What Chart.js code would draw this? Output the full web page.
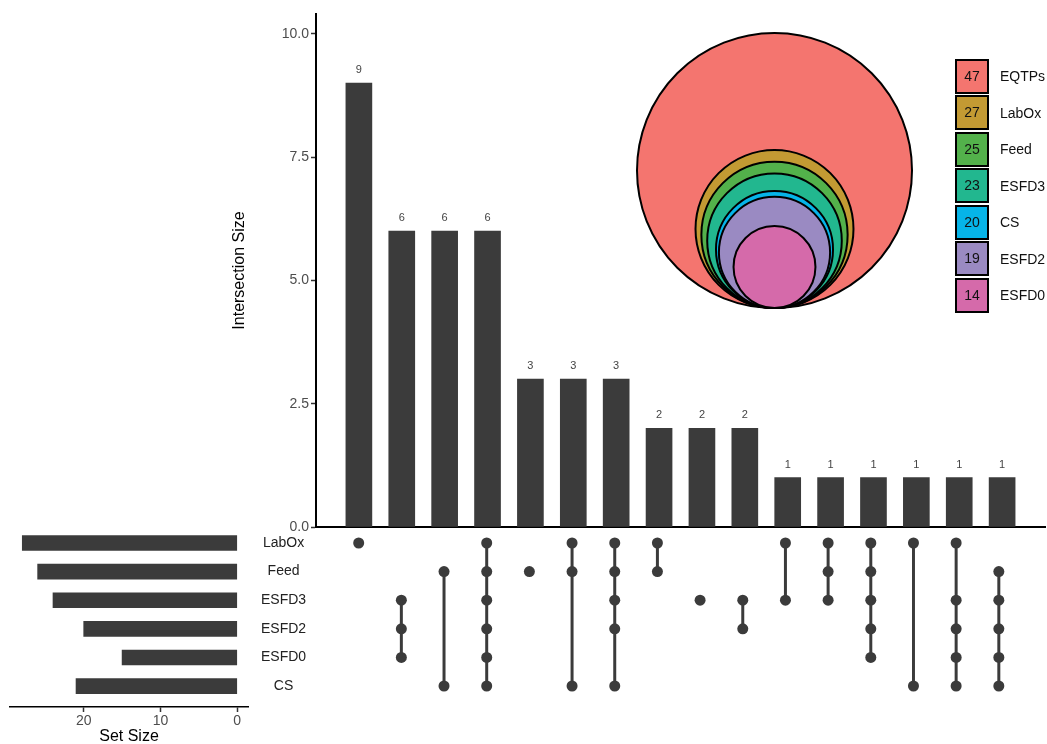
<!DOCTYPE html>
<html>
<head>
<meta charset="utf-8">
<script src="https://cdn.jsdelivr.net/npm/chart.js@4.4.1/dist/chart.umd.min.js"></script>
<style>
  body { margin: 0; background: #fff; }
  #wrap { position: relative; width: 1047px; height: 744px; overflow: hidden; font-family: "Liberation Sans", Arial, sans-serif; }
  #wrap canvas { position: absolute; }
  #legend { position: absolute; left: 955px; top: 58px; }
  .item { display: flex; align-items: center; height: 36.5px; }
  .box { width: 30px; height: 31px; border: 2px solid #000; text-align: center; line-height: 31px; font-size: 14px; color: #111; }
  .lab { margin-left: 11px; font-size: 14px; color: #111; }
</style>
</head>
<body>
<div id="wrap">
  <canvas id="bars" width="1047" height="540" style="left:0;top:0"></canvas>
  <canvas id="nest" width="290" height="290" style="left:630px;top:30px"></canvas>
  <canvas id="matrix" width="1047" height="200" style="left:0;top:520px"></canvas>
  <canvas id="sizes" width="330" height="224" style="left:0;top:520px"></canvas>
  <div id="legend"></div>
</div>
<script>
// data
const sets = ["LabOx", "Feed", "ESFD3", "ESFD2", "ESFD0", "CS"];
const setSizes = [28, 26, 24, 20, 15, 21];
const intersectionSizes = [9, 6, 6, 6, 3, 3, 3, 2, 2, 2, 1, 1, 1, 1, 1, 1];
const intersectionMembers = [
  ["LabOx"],
  ["ESFD3", "ESFD2", "ESFD0"],
  ["Feed", "CS"],
  ["LabOx", "Feed", "ESFD3", "ESFD2", "ESFD0", "CS"],
  ["Feed"],
  ["LabOx", "Feed", "CS"],
  ["LabOx", "Feed", "ESFD3", "ESFD2", "CS"],
  ["LabOx", "Feed"],
  ["ESFD3"],
  ["ESFD3", "ESFD2"],
  ["LabOx", "ESFD3"],
  ["LabOx", "Feed", "ESFD3"],
  ["LabOx", "Feed", "ESFD3", "ESFD2", "ESFD0"],
  ["LabOx", "CS"],
  ["LabOx", "ESFD3", "ESFD2", "ESFD0", "CS"],
  ["Feed", "ESFD3", "ESFD2", "ESFD0", "CS"],
];
const yTicks = [0, 2.5, 5, 7.5, 10];
const setTicks = [0, 10, 20];
const nestNames = ["EQTPs", "LabOx", "Feed", "ESFD3", "CS", "ESFD2", "ESFD0"];
const nestCounts = [47, 27, 25, 23, 20, 19, 14];
const nestColors = ["#F4756F", "#C39A33", "#53B14B", "#22B78F", "#06B4E8", "#9A8AC2", "#D56AAA"];

const DARK = "#3b3b3b";
const FONT = "'Liberation Sans', Arial, sans-serif";
Chart.defaults.font.family = FONT;
Chart.defaults.animation = false;
Chart.defaults.responsive = false;
Chart.defaults.plugins.legend.display = false;
Chart.defaults.plugins.tooltip.enabled = false;

const nCols = intersectionSizes.length;

// numbers above the bars
const barLabels = {
  id: "barLabels",
  afterDatasetsDraw(chart) {
    const ctx = chart.ctx;
    ctx.save();
    ctx.font = "11px " + FONT;
    ctx.fillStyle = "#444";
    ctx.textAlign = "center";
    ctx.textBaseline = "middle";
    chart.getDatasetMeta(0).data.forEach((el, i) => {
      ctx.fillText(String(intersectionSizes[i]), el.x, el.y - 13);
    });
    ctx.restore();
  }
};

new Chart(document.getElementById("bars"), {
  type: "bar",
  data: {
    datasets: [{
      data: intersectionSizes.map((v, i) => ({ x: i + 1, y: v })),
      backgroundColor: DARK,
      barThickness: 26
    }]
  },
  options: {
    layout: { padding: { left: 226, top: 14, right: 2, bottom: 13 } },
    scales: {
      x: {
        type: "linear", min: 0, max: nCols + 1, offset: false,
        grid: { display: false, offset: false },
        ticks: { display: false },
        border: { color: "#000", width: 2 },
        afterFit: s => { s.height = 0; }
      },
      y: {
        min: 0, max: 10.4,
        afterBuildTicks: s => { s.ticks = yTicks.map(v => ({ value: v })); },
        grid: { drawOnChartArea: false, tickLength: 5, color: "#333", tickWidth: 1.5 },
        border: { color: "#000", width: 2 },
        ticks: { color: "#4d4d4d", font: { size: 14 }, padding: 2, callback: v => v.toFixed(1) },
        title: { display: true, text: "Intersection Size", color: "#000", font: { size: 16 }, padding: { top: 4, bottom: 4 } },
        afterFit: s => { s.width = 90; }
      }
    }
  },
  plugins: [barLabels]
});

// nested circles, radius proportional to count, all touching at the bottom
const R_MAX = 137.5;
const rOf = c => c / nestCounts[0] * R_MAX;
new Chart(document.getElementById("nest"), {
  type: "bubble",
  data: {
    datasets: [{
      data: nestCounts.map(c => ({ x: 144.5, y: 12 + rOf(c), r: rOf(c) })),
      backgroundColor: nestColors,
      borderColor: "#000",
      borderWidth: 2,
      clip: false
    }]
  },
  options: {
    layout: { padding: 0, autoPadding: false },
    scales: {
      x: { display: false, min: 0, max: 290 },
      y: { display: false, min: 0, max: 290 }
    }
  }
});

// matrix of dots and connecting lines
const matrixSets = [];
intersectionMembers.forEach((m, i) => {
  const rows = m.map(s => sets.indexOf(s));
  matrixSets.push({
    type: "line",
    data: [{ x: i + 1, y: Math.min(...rows) }, { x: i + 1, y: Math.max(...rows) }],
    borderColor: DARK,
    borderWidth: 3,
    pointRadius: 0
  });
});
matrixSets.push({
  type: "scatter",
  data: intersectionMembers.flatMap((m, i) => m.map(s => ({ x: i + 1, y: sets.indexOf(s) }))),
  backgroundColor: DARK,
  borderWidth: 0,
  pointRadius: 5.5
});

new Chart(document.getElementById("matrix"), {
  type: "scatter",
  data: { datasets: matrixSets },
  options: {
    layout: { padding: { left: 316, right: 2, top: 8.7, bottom: 19.7 } },
    scales: {
      x: { type: "linear", display: false, min: 0, max: nCols + 1 },
      y: { type: "linear", display: false, min: -0.5, max: 5.5, reverse: true }
    }
  }
});

// set sizes, horizontal bars growing to the left
new Chart(document.getElementById("sizes"), {
  type: "bar",
  data: {
    datasets: [{
      data: setSizes.map((v, i) => ({ x: v, y: i })),
      backgroundColor: DARK,
      barThickness: 15
    }]
  },
  options: {
    indexAxis: "y",
    layout: { padding: { left: 10, right: 2, top: 8.7, bottom: 0 } },
    scales: {
      x: {
        type: "linear", min: -1.4, max: 29.6, reverse: true,
        afterBuildTicks: s => { s.ticks = setTicks.map(v => ({ value: v })); },
        grid: { drawOnChartArea: false, tickLength: 5, color: "#333", tickWidth: 1.5 },
        border: { color: "#000", width: 1.5 },
        ticks: { color: "#4d4d4d", font: { size: 14 }, padding: 1, maxRotation: 0 },
        title: { display: true, text: "Set Size", color: "#000", font: { size: 16 }, padding: { top: 0, bottom: -2 } },
        afterFit: s => { s.height = 37; }
      },
      y: {
        type: "linear", position: "right", min: -0.5, max: 5.73, reverse: true, offset: false,
        afterBuildTicks: s => { s.ticks = sets.map((_, i) => ({ value: i })); },
        grid: { display: false, offset: false },
        border: { display: false },
        ticks: { color: "#222", font: { size: 14, lineHeight: 0.4 }, crossAlign: "center", padding: 5, callback: v => sets[v] },
        afterFit: s => { s.width = 80; }
      }
    }
  }
});

// legend for the nested circles
const legend = document.getElementById("legend");
nestNames.forEach((name, i) => {
  const item = document.createElement("div");
  item.className = "item";
  item.innerHTML = '<div class="box" style="background:' + nestColors[i] + '">' + nestCounts[i] + '</div><span class="lab">' + name + '</span>';
  legend.appendChild(item);
});
</script>
</body>
</html>
